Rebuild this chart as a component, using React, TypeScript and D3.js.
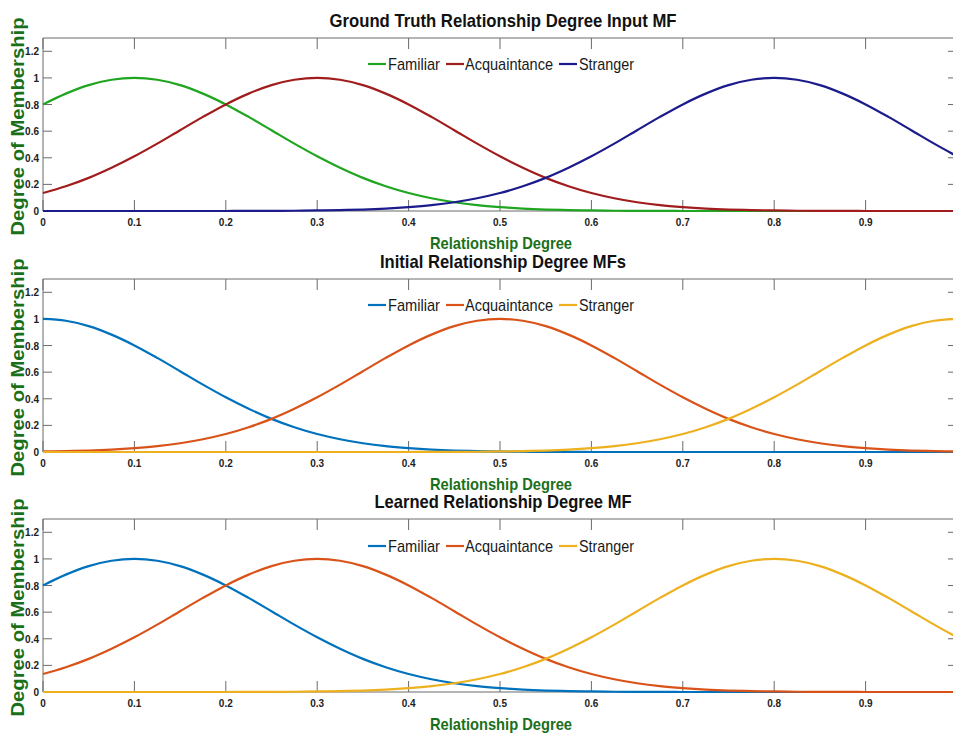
import React from 'react';
import * as d3 from 'd3';

// sample positions along Relationship Degree
const xSamples = [0, 0.025, 0.05, 0.075, 0.1, 0.125, 0.15, 0.175, 0.2, 0.225, 0.25, 0.275, 0.3, 0.325, 0.35, 0.375, 0.4, 0.425, 0.45, 0.475, 0.5, 0.525, 0.55, 0.575, 0.6, 0.625, 0.65, 0.675, 0.7, 0.725, 0.75, 0.775, 0.8, 0.825, 0.85, 0.875, 0.9, 0.925, 0.95, 0.975, 1];

// Panel 1: Ground truth
const gtFamiliar = [0.801, 0.882, 0.946, 0.986, 1, 0.986, 0.946, 0.882, 0.801, 0.707, 0.607, 0.506, 0.411, 0.325, 0.249, 0.186, 0.135, 0.096, 0.066, 0.044, 0.029, 0.018, 0.011, 0.007, 0.004, 0.002, 0.001, 0.001, 0, 0, 0, 0, 0, 0, 0, 0, 0, 0, 0, 0, 0];
const gtAcquaintance = [0.135, 0.186, 0.249, 0.325, 0.411, 0.506, 0.607, 0.707, 0.801, 0.882, 0.946, 0.986, 1, 0.986, 0.946, 0.882, 0.801, 0.707, 0.607, 0.506, 0.411, 0.325, 0.249, 0.186, 0.135, 0.096, 0.066, 0.044, 0.029, 0.018, 0.011, 0.007, 0.004, 0.002, 0.001, 0.001, 0, 0, 0, 0, 0];
const gtStranger = [0, 0, 0, 0, 0, 0, 0, 0, 0, 0.001, 0.001, 0.002, 0.004, 0.007, 0.011, 0.018, 0.029, 0.044, 0.066, 0.096, 0.135, 0.186, 0.249, 0.325, 0.411, 0.506, 0.607, 0.707, 0.801, 0.882, 0.946, 0.986, 1, 0.986, 0.946, 0.882, 0.801, 0.707, 0.607, 0.506, 0.411];

// Panel 2: Initial
const initFamiliar = [1, 0.986, 0.946, 0.882, 0.801, 0.707, 0.607, 0.506, 0.411, 0.325, 0.249, 0.186, 0.135, 0.096, 0.066, 0.044, 0.029, 0.018, 0.011, 0.007, 0.004, 0.002, 0.001, 0.001, 0, 0, 0, 0, 0, 0, 0, 0, 0, 0, 0, 0, 0, 0, 0, 0, 0];
const initAcquaintance = [0.004, 0.007, 0.011, 0.018, 0.029, 0.044, 0.066, 0.096, 0.135, 0.186, 0.249, 0.325, 0.411, 0.506, 0.607, 0.707, 0.801, 0.882, 0.946, 0.986, 1, 0.986, 0.946, 0.882, 0.801, 0.707, 0.607, 0.506, 0.411, 0.325, 0.249, 0.186, 0.135, 0.096, 0.066, 0.044, 0.029, 0.018, 0.011, 0.007, 0.004];
const initStranger = [0, 0, 0, 0, 0, 0, 0, 0, 0, 0, 0, 0, 0, 0, 0, 0, 0, 0.001, 0.001, 0.002, 0.004, 0.007, 0.011, 0.018, 0.029, 0.044, 0.066, 0.096, 0.135, 0.186, 0.249, 0.325, 0.411, 0.506, 0.607, 0.707, 0.801, 0.882, 0.946, 0.986, 1];

// Panel 3: Learned
const learnedFamiliar = [0.801, 0.882, 0.946, 0.986, 1, 0.986, 0.946, 0.882, 0.801, 0.707, 0.607, 0.506, 0.411, 0.325, 0.249, 0.186, 0.135, 0.096, 0.066, 0.044, 0.029, 0.018, 0.011, 0.007, 0.004, 0.002, 0.001, 0.001, 0, 0, 0, 0, 0, 0, 0, 0, 0, 0, 0, 0, 0];
const learnedAcquaintance = [0.135, 0.186, 0.249, 0.325, 0.411, 0.506, 0.607, 0.707, 0.801, 0.882, 0.946, 0.986, 1, 0.986, 0.946, 0.882, 0.801, 0.707, 0.607, 0.506, 0.411, 0.325, 0.249, 0.186, 0.135, 0.096, 0.066, 0.044, 0.029, 0.018, 0.011, 0.007, 0.004, 0.002, 0.001, 0.001, 0, 0, 0, 0, 0];
const learnedStranger = [0, 0, 0, 0, 0, 0, 0, 0, 0, 0.001, 0.001, 0.002, 0.004, 0.007, 0.011, 0.018, 0.029, 0.044, 0.066, 0.096, 0.135, 0.186, 0.249, 0.325, 0.411, 0.506, 0.607, 0.707, 0.801, 0.882, 0.946, 0.986, 1, 0.986, 0.946, 0.882, 0.801, 0.707, 0.607, 0.506, 0.411];

const seriesNames = ['Familiar', 'Acquaintance', 'Stranger'];
const panelTitles = ['Ground Truth Relationship Degree Input MF', 'Initial Relationship Degree MFs', 'Learned Relationship Degree MF'];
const xTicks = [0, 0.1, 0.2, 0.3, 0.4, 0.5, 0.6, 0.7, 0.8, 0.9];
const xTickLabels = ['0', '0.1', '0.2', '0.3', '0.4', '0.5', '0.6', '0.7', '0.8', '0.9'];
const yTicks = [0, 0.2, 0.4, 0.6, 0.8, 1, 1.2];
const yTickLabels = ['0', '0.2', '0.4', '0.6', '0.8', '1', '1.2'];
const xAxisLabel = 'Relationship Degree';
const yAxisLabel = 'Degree of Membership';

const paletteGT = ['#1fa51f', '#a11c1c', '#1b1b8c'];
const paletteMatlab = ['#0072BD', '#D95319', '#EDB120'];

const W = 953;
const H = 734;
const LEFT = 43;
const RIGHT = 957;
const PH = 173;
const panelTops = [38, 279, 519];
const titleWidths = [347, 246, 257];
const NARROW = "'Liberation Sans Narrow', 'Arial Narrow', 'Liberation Sans', Arial, sans-serif";
const LABEL_GREEN = '#1a701a';
const AXIS = '#6b6b6b';

const legendLayout = [
  { line: 368, text: 388, width: 52 },
  { line: 446, text: 465, width: 88 },
  { line: 559, text: 579, width: 55 },
];

type PanelProps = {
  top: number;
  title: string;
  titleWidth: number;
  series: number[][];
  colors: string[];
  idx: number;
};

function Panel({ top, title, titleWidth, series, colors, idx }: PanelProps) {
  const bottom = top + PH;
  const x = d3.scaleLinear().domain([0, 1]).range([LEFT, RIGHT]);
  const y = d3.scaleLinear().domain([0, 1.3]).range([bottom, top]);
  const line = d3
    .line<number>()
    .x((_, i) => x(xSamples[i]))
    .y((v) => y(v))
    .curve(d3.curveMonotoneX);
  const clipId = `clip-${idx}`;
  const cx = (LEFT + RIGHT) / 2;
  const legendY = top + 26 + (idx === 2 ? 1 : 0);
  return (
    <g>
      <defs>
        <clipPath id={clipId}>
          <rect x={LEFT - 2} y={top - 2} width={RIGHT - LEFT + 4} height={PH + 4} />
        </clipPath>
      </defs>
      {/* title */}
      <text
        x={cx + 3}
        y={top - 11}
        textAnchor="middle"
        fontFamily={NARROW}
        fontWeight="bold"
        fontSize={19}
        fill="#111"
        textLength={titleWidth}
        lengthAdjust="spacingAndGlyphs"
      >
        {title}
      </text>
      {/* box */}
      <line x1={LEFT} x2={RIGHT} y1={top} y2={top} stroke={AXIS} strokeWidth={1} />
      <line x1={LEFT} x2={RIGHT} y1={bottom} y2={bottom} stroke={AXIS} strokeWidth={1} />
      <line x1={LEFT} x2={LEFT} y1={top} y2={bottom} stroke={AXIS} strokeWidth={1} />
      <line x1={RIGHT} x2={RIGHT} y1={top} y2={bottom} stroke={AXIS} strokeWidth={1} />
      {/* x ticks */}
      {xTicks.map((t, i) => (
        <g key={`xt${i}`}>
          <line x1={x(t)} x2={x(t)} y1={bottom} y2={bottom - 11} stroke={AXIS} />
          <line x1={x(t)} x2={x(t)} y1={top} y2={top + 11} stroke={AXIS} />
          <text
            x={x(t)}
            y={bottom + 15}
            textAnchor="middle"
            fontFamily={NARROW}
            fontWeight="bold"
            fontSize={10}
            fill="#222"
          >
            {xTickLabels[i]}
          </text>
        </g>
      ))}
      {/* y ticks */}
      {yTicks.map((t, i) => (
        <g key={`yt${i}`}>
          <line x1={LEFT} x2={LEFT + 9} y1={y(t)} y2={y(t)} stroke={AXIS} />
          <line x1={RIGHT} x2={RIGHT - 9} y1={y(t)} y2={y(t)} stroke={AXIS} />
          <text
            x={LEFT - 4}
            y={y(t) + 4}
            textAnchor="end"
            fontFamily={NARROW}
            fontWeight="bold"
            fontSize={10}
            fill="#222"
          >
            {yTickLabels[i]}
          </text>
        </g>
      ))}
      {/* curves */}
      <g clipPath={`url(#${clipId})`}>
        {series.map((s, i) => (
          <path key={`s${i}`} d={line(s) || ''} fill="none" stroke={colors[i]} strokeWidth={2.2} />
        ))}
      </g>
      {/* legend */}
      {seriesNames.map((name, i) => (
        <g key={`lg${i}`}>
          <line
            x1={legendLayout[i].line}
            x2={legendLayout[i].line + 18}
            y1={legendY}
            y2={legendY}
            stroke={colors[i]}
            strokeWidth={2.2}
          />
          <text
            x={legendLayout[i].text}
            y={legendY + 6}
            fontFamily={NARROW}
            fontSize={17}
            fill="#1a1a1a"
            textLength={legendLayout[i].width}
            lengthAdjust="spacingAndGlyphs"
          >
            {name}
          </text>
        </g>
      ))}
      {/* x label */}
      <text
        x={cx + 1}
        y={bottom + 38}
        textAnchor="middle"
        fontFamily={NARROW}
        fontWeight="bold"
        fontSize={17}
        fill={LABEL_GREEN}
        textLength={142}
        lengthAdjust="spacingAndGlyphs"
      >
        {xAxisLabel}
      </text>
      {/* y label */}
      <text
        transform={`translate(24, ${(top + bottom) / 2 + 2}) rotate(-90)`}
        textAnchor="middle"
        fontFamily="'Liberation Sans', Arial, sans-serif"
        fontWeight="bold"
        fontSize={18}
        fill={LABEL_GREEN}
        textLength={218}
        lengthAdjust="spacingAndGlyphs"
      >
        {yAxisLabel}
      </text>
    </g>
  );
}

export default function App() {
  const panels = [
    { series: [gtFamiliar, gtAcquaintance, gtStranger], colors: paletteGT },
    { series: [initFamiliar, initAcquaintance, initStranger], colors: paletteMatlab },
    { series: [learnedFamiliar, learnedAcquaintance, learnedStranger], colors: paletteMatlab },
  ];
  return (
    <svg
      width={W}
      height={H}
      viewBox={`0 0 ${W} ${H}`}
      style={{ position: 'absolute', left: 0, top: 0, background: '#fff' }}
    >
      <rect x={0} y={0} width={W} height={H} fill="#fff" />
      {panels.map((p, i) => (
        <Panel
          key={i}
          idx={i}
          top={panelTops[i]}
          title={panelTitles[i]}
          titleWidth={titleWidths[i]}
          series={p.series}
          colors={p.colors}
        />
      ))}
    </svg>
  );
}
